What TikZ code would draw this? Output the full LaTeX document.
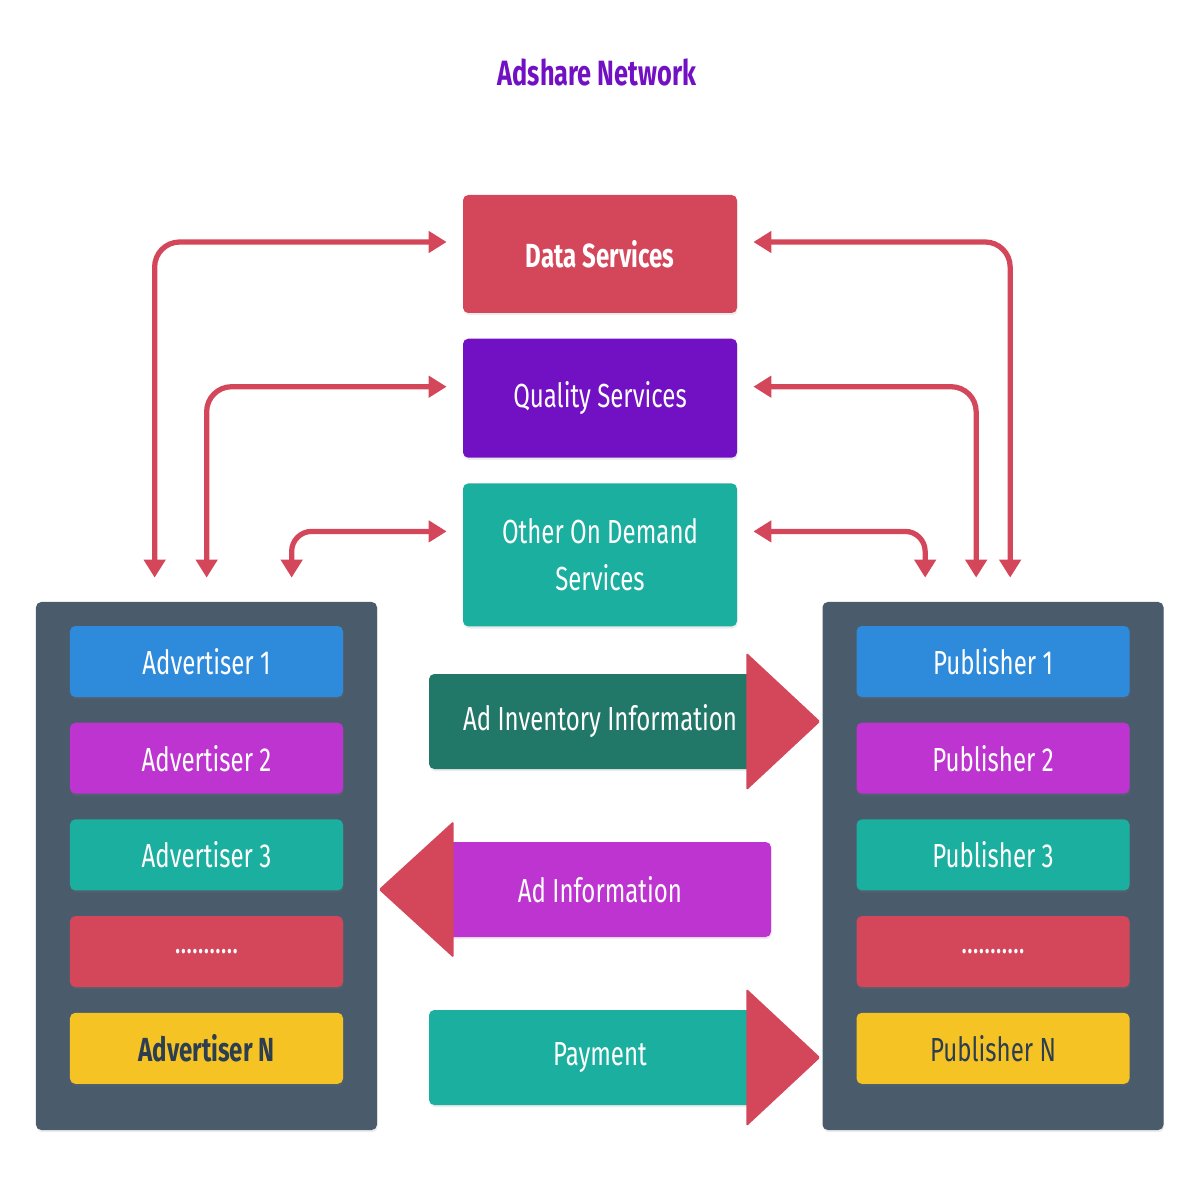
\documentclass[tikz,border=0pt]{standalone}
\usepackage{fontspec}
\setmainfont{Fira Sans}[FakeStretch=0.72]
\usetikzlibrary{positioning, arrows.meta, shadows}

\definecolor{dsred}{HTML}{D4475B}
\definecolor{qspurple}{HTML}{7211C4}
\definecolor{odteal}{HTML}{1BAF9F}
\definecolor{mblue}{HTML}{2E8BDB}
\definecolor{mmagenta}{HTML}{BE34D0}
\definecolor{myellow}{HTML}{F6C325}
\definecolor{slate}{HTML}{4A5B6B}
\definecolor{deepteal}{HTML}{217768}
\definecolor{inkdark}{HTML}{2C3E50}

\tikzset{%
  soft shadow/.style = {drop shadow={opacity=0.15, shadow xshift=0.4pt,
      shadow yshift=-1.2pt}},
  svc/.style    = {rectangle, rounded corners=3pt, minimum width=5.48cm,
    text=white, align=center, font=\fontsize{19}{27}\selectfont, soft shadow},
  panel/.style  = {rectangle, rounded corners=3pt, fill=slate,
    minimum width=6.82cm, minimum height=10.56cm, soft shadow},
  member/.style = {rectangle, rounded corners=3pt, minimum width=5.46cm,
    minimum height=1.42cm, text=white, font=\fontsize{19}{23}\selectfont,
    soft shadow},
  flow/.style   = {rectangle, rounded corners=3pt, minimum width=6.84cm,
    minimum height=1.9cm, text=white, font=\fontsize{19}{23}\selectfont,
    soft shadow},
  head/.style   = {fill=dsred, rounded corners=1pt},
  link/.style   = {draw=dsred, line width=0.105cm, rounded corners=0.5cm,
    {Triangle[length=0.36cm,width=0.42cm]}-{Triangle[length=0.36cm,width=0.42cm]}}
}

\begin{document}
\begin{tikzpicture}[x=0.2mm, y=0.2mm]

\useasboundingbox (0,0) rectangle (1200,1180);

\node [text=qspurple, font=\fontsize{20}{24}\selectfont\bfseries] (title)
  at (597,1108) {Adshare Network};

% services in the middle
\node [svc, fill=dsred, minimum height=2.36cm, font=\fontsize{19}{23}\selectfont\bfseries]
  (dat) at (600,926) {Data Services};
\node [svc, fill=qspurple, minimum height=2.38cm, below=0.5cm of dat] (qual) {Quality Services};
\node [svc, fill=odteal, minimum height=2.86cm, below=0.5cm of qual] (other)
  {Other On Demand\\Services};

% advertiser side
\node [panel] (advp) at (206.5,314) {};
\node [member, fill=mblue, below=0.48cm of advp.north] (adv1) {Advertiser 1};
\node [member, fill=mmagenta, below=0.5cm of adv1] (adv2) {Advertiser 2};
\node [member, fill=odteal, below=0.5cm of adv2] (adv3) {Advertiser 3};
\node [member, fill=dsred, below=0.5cm of adv3] (advdots) {...........};
\node [member, fill=myellow, text=inkdark, font=\fontsize{19}{23}\selectfont\bfseries,
  below=0.5cm of advdots] (advN) {Advertiser N};

% publisher side
\node [panel] (pubp) at (993,314) {};
\node [member, fill=mblue, below=0.48cm of pubp.north] (pub1) {Publisher 1};
\node [member, fill=mmagenta, below=0.5cm of pub1] (pub2) {Publisher 2};
\node [member, fill=odteal, below=0.5cm of pub2] (pub3) {Publisher 3};
\node [member, fill=dsred, below=0.5cm of pub3] (pubdots) {...........};
\node [member, fill=myellow, text=inkdark, below=0.5cm of pubdots] (pubN) {Publisher N};

% flows between the two sides
\node [flow, fill=deepteal] (inv) at (600,458.5) {Ad Inventory Information};
\node [flow, fill=mmagenta] (info) at (600,290.5) {Ad Information};
\node [flow, fill=odteal] (pay) at (600,122.5) {Payment};

\fill [head] ([shift={(-0.5cm,1.38cm)}]inv.east) -- ([xshift=0.98cm]inv.east)
  -- ([shift={(-0.5cm,-1.38cm)}]inv.east) -- cycle;
\fill [head] ([shift={(0.5cm,1.37cm)}]info.west) -- ([xshift=-1.0cm]info.west)
  -- ([shift={(0.5cm,-1.37cm)}]info.west) -- cycle;
\fill [head] ([shift={(-0.5cm,1.38cm)}]pay.east) -- ([xshift=0.98cm]pay.east)
  -- ([shift={(-0.5cm,-1.38cm)}]pay.east) -- cycle;

% links from the panels up to the services
\coordinate (l1) at ([shift={(2.38cm,0.48cm)}]advp.north west);
\coordinate (l2) at ([shift={(3.42cm,0.48cm)}]advp.north west);
\coordinate (l3) at ([shift={(5.12cm,0.48cm)}]advp.north west);
\coordinate (r1) at ([shift={(3.76cm,0.48cm)}]pubp.north west);
\coordinate (r2) at ([shift={(3.08cm,0.48cm)}]pubp.north west);
\coordinate (r3) at ([shift={(2.06cm,0.48cm)}]pubp.north west);

\draw [link] (l1) |- ([shift={(-0.32cm,0.24cm)}]dat.west);
\draw [link] (l2) |- ([shift={(-0.32cm,0.23cm)}]qual.west);
\draw [link, rounded corners=0.4cm] (l3) |- ([shift={(-0.32cm,0.47cm)}]other.west);
\draw [link] (r1) |- ([shift={(0.32cm,0.24cm)}]dat.east);
\draw [link] (r2) |- ([shift={(0.32cm,0.23cm)}]qual.east);
\draw [link, rounded corners=0.4cm] (r3) |- ([shift={(0.32cm,0.47cm)}]other.east);

\end{tikzpicture}
\end{document}
